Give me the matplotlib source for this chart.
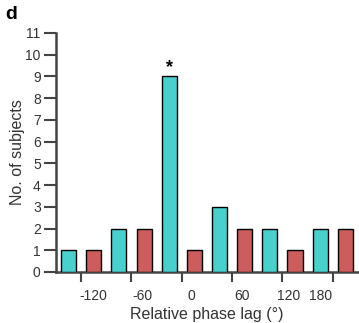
import matplotlib
matplotlib.use("Agg")
import matplotlib.pyplot as plt
import numpy as np

plt.rcParams['font.family'] = ['Liberation Sans', 'DejaVu Sans']

# Data
phase_bins = [-150, -120, -90, -60, -30, 0, 30, 60, 90, 120, 150, 180]
counts = [1, 1, 2, 2, 9, 1, 3, 2, 2, 1, 2, 2]
groups = ['a', 'b', 'a', 'b', 'a', 'b', 'a', 'b', 'a', 'b', 'a', 'b']
tick_labels = ['-120', '-60', '0', '60', '120', '180']
ytick_values = list(range(0, 12))

colors = {'a': '#48D1CC', 'b': '#CD5C5C'}

fig = plt.figure(figsize=(3.59, 3.23), dpi=100)
ax = fig.add_axes([0.156, 0.158, 0.841, 0.740])

ax.bar(phase_bins, counts, width=18, color=[colors[g] for g in groups],
       edgecolor='black', linewidth=1.0, zorder=3)

ax.set_xlim(-165, 195)
ax.set_ylim(0, 11)

# major ticks: marks between pairs, no labels
major_pos = [(phase_bins[i] + phase_bins[i + 1]) / 2 for i in range(0, len(phase_bins), 2)]
ax.set_xticks(major_pos)
ax.set_xticklabels([''] * len(major_pos))
# labels as minor ticks without marks
label_pos = [-121, -62, -3, 57, 112, 150]
ax.set_xticks(label_pos, minor=True)
ax.set_xticklabels(tick_labels, minor=True)
ax.tick_params(axis='x', which='major', direction='out', length=7, width=1.5, color='#444444')
ax.tick_params(axis='x', which='minor', length=0, pad=12, labelsize=10, labelcolor='#333333')

ax.set_yticks(ytick_values)
ax.tick_params(axis='y', direction='out', length=9, width=1.5, color='#444444',
               labelsize=10, labelcolor='#333333', pad=2)

for s in ['top', 'right']:
    ax.spines[s].set_visible(False)
for s in ['left', 'bottom']:
    ax.spines[s].set_color('#444444')
    ax.spines[s].set_linewidth(1.8)

ax.set_xlabel('Relative phase lag (°)', fontsize=11.5, color='#333333', labelpad=3)
ax.set_ylabel('No. of subjects', fontsize=11.5, color='#333333', labelpad=0)

ax.text(phase_bins[4], counts[4] + 0.0, '*', ha='center', va='bottom',
        fontsize=13, fontweight='bold', color='black')

fig.text(0.014, 0.982, 'd', fontsize=14, fontweight='bold', va='top', ha='left')

fig.savefig('out.png', dpi=100)
